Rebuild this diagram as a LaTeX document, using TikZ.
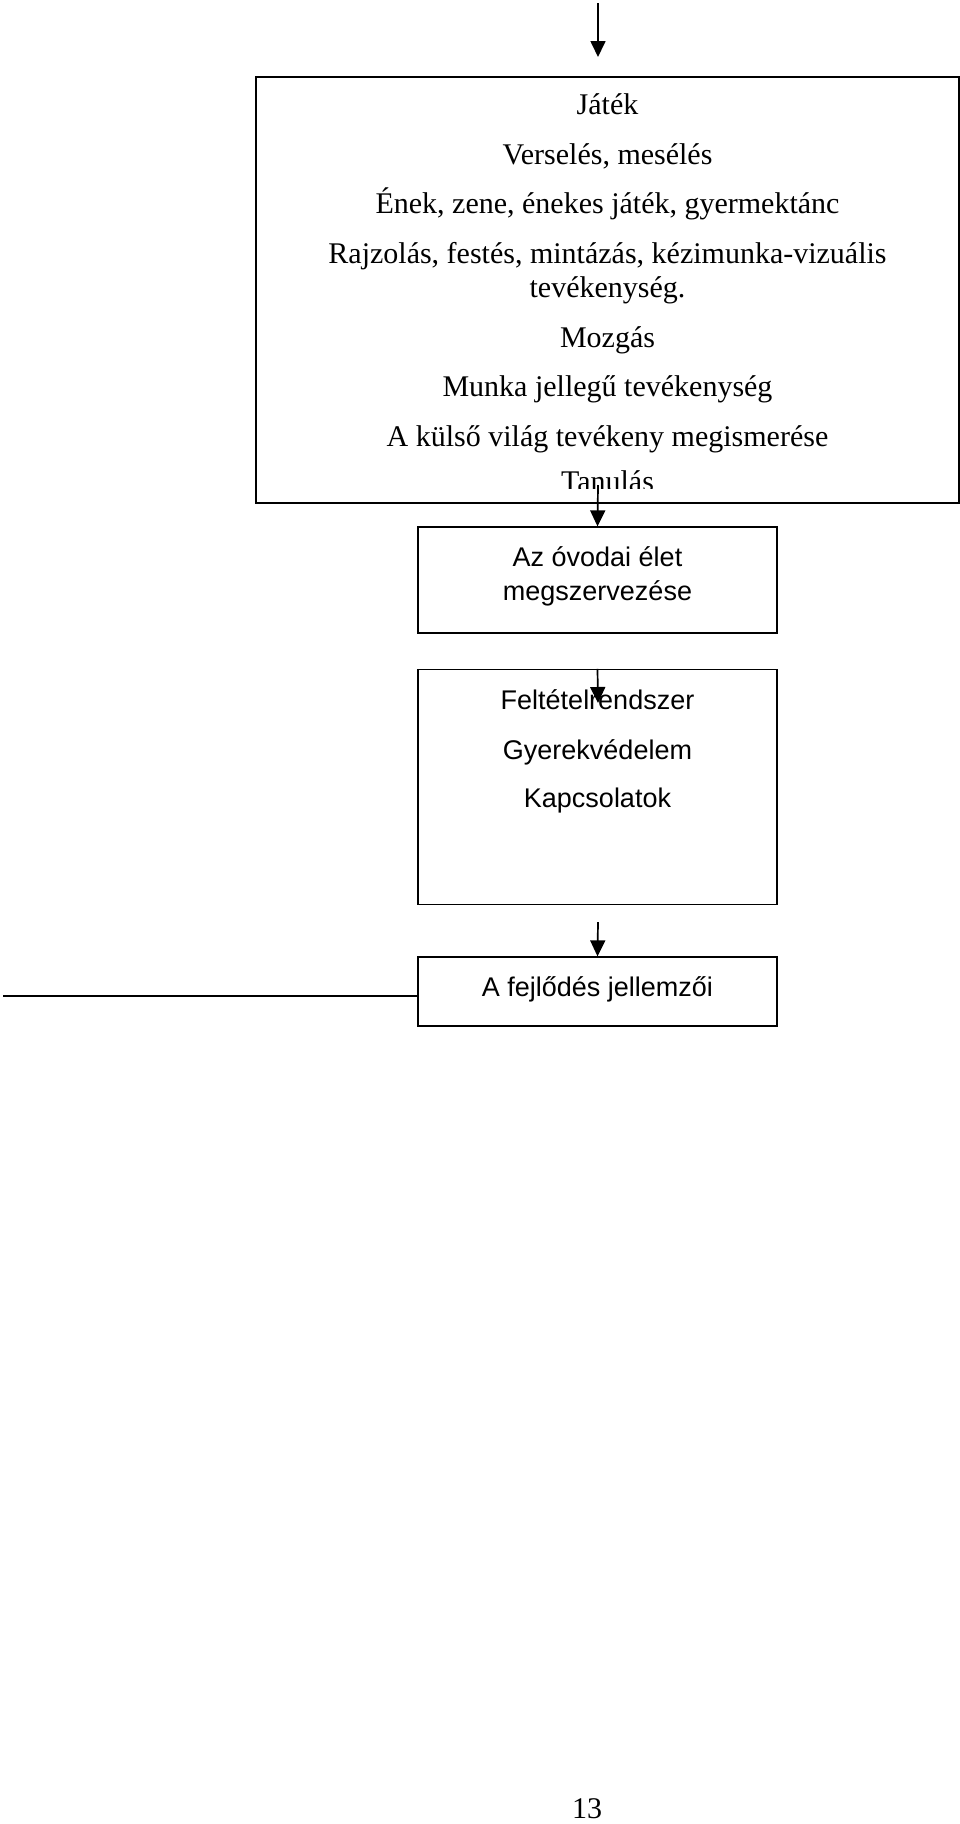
\documentclass[tikz,border=0pt]{standalone}
\usepackage{fontspec}
\setmainfont{Liberation Serif}
\newfontfamily\arial{Liberation Sans}
\usetikzlibrary{arrows.meta}
\tikzset{
  doboz/.style={draw, line width=1.3pt, inner sep=0pt},
  nyil/.style={line width=1.7pt, -{Triangle[width=15pt,length=16pt]}},
  szoveg/.style={anchor=base, font=\fontsize{30}{34}\selectfont},
  sans/.style={anchor=base, font=\arial\fontsize{27}{34}\selectfont}
}
\newcommand{\sor}[3]{\node[szoveg](#1) at (607.5,#3) {#2};}
\newcommand{\sanssor}[3]{\node[sans](#1) at (597.5,#3) {#2};}

\begin{document}
\begin{tikzpicture}[x=1pt,y=-1pt]
	\useasboundingbox (0,0) rectangle (960,1824);

	% boxes
	\node[doboz, minimum width=703pt, minimum height=426pt] (keret) at (607.5,290) {};
	\node[doboz, minimum width=359pt, minimum height=106pt] (elet) at (597.5,580) {};
	\node[doboz, minimum width=359pt, minimum height=235pt] (felt) at (597.5,787) {};
	\node[doboz, minimum width=359pt, minimum height=69pt] (fejl) at (597.5,991.5) {};

	% the last line of the big box is cut off
	\begin{scope}
		\clip (keret.north west) rectangle ([yshift=15pt]keret.south east);
		\sor{jatek}{Játék}{114}
		\sor{vers}{Verselés, mesélés}{164}
		\sor{enek}{Ének, zene, énekes játék, gyermektánc}{213}
		\sor{rajz}{Rajzolás, festés, mintázás, kézimunka-vizuális}{263}
		\sor{rajzb}{tevékenység.}{297}
		\sor{mozg}{Mozgás}{347}
		\sor{munka}{Munka jellegű tevékenység}{396}
		\sor{kulso}{A külső világ tevékeny megismerése}{446}
		\sor{tanul}{Tanulás}{491}
	\end{scope}

	\sanssor{elet1}{Az óvodai élet}{566}
	\sanssor{elet2}{megszervezése}{600}
	\sanssor{felt1}{Feltételrendszer}{709}
	\sanssor{felt2}{Gyerekvédelem}{759}
	\sanssor{felt3}{Kapcsolatok}{807}
	\sanssor{fejl1}{A fejlődés jellemzői}{996}

	\node[szoveg] (oldal) at (587,1818) {13};

	% arrows
	\coordinate (fent) at (598,3);
	\coordinate (fentveg) at (598,57);
	\coordinate (k2) at (598,485);
	\coordinate (f3) at (598,703);
	\coordinate (k4) at (598,922);
	\coordinate (balveg) at (3,996);

	\draw[nyil] (fent) to (fentveg);
	\draw[nyil] (k2) to (elet.north);
	\draw[nyil] (felt.north) to (f3);
	\draw[nyil] (k4) to (fejl.north);
	\draw[line width=2pt] (balveg) to (balveg -| fejl.west);
\end{tikzpicture}
\end{document}
